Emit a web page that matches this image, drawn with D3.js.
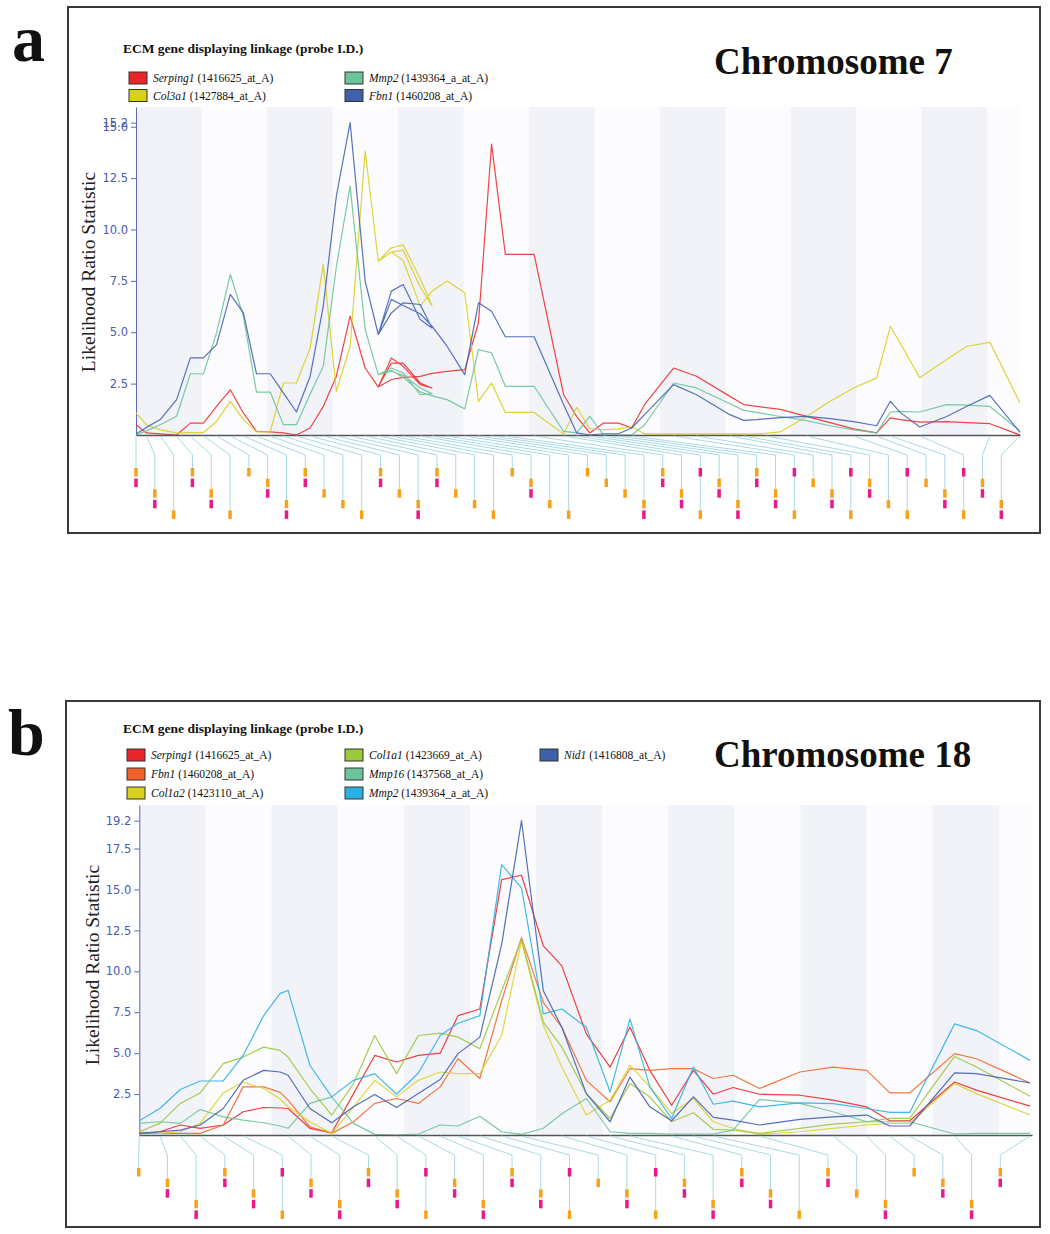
<!DOCTYPE html>
<html><head><meta charset="utf-8">
<script src="https://cdn.jsdelivr.net/npm/d3@7"></script>
<style>body{margin:0;background:#fff}</style>
</head><body>
<svg id="c" width="1050" height="1234"></svg>
<script>
// ================= DATA =================
// ---- Panel a : Chromosome 7 ----
const posA = [0,1.6,3.7,6.2,8.3,10.3,12.3,14.4,16.4,18.4,20.5,22.5,24.5,26.6,28.6,30.6,32.7,35.0,37.0,
  39.0,40.8,43.4,45.2, 43.4,40.8,39.0,37.0,
  39.0,40.8,43.4,45.2,47.5,50.2,52.3,54.3,56.4,60.8,65.3,67.3,69.3,71.4,73.7,75.7,77.7,82.1,85.6,90.7,92.8,94.8,98.4,102.4,106.0,109.6,113.1,115.2,116.7,119.7,123.8,126.9,130.4,135.0];
const serping1A = [0.5,0.1,0.05,0.0,0.58,0.58,1.39,2.2,1.07,0.18,0.15,0.1,0.0,0.34,1.39,2.86,5.78,3.26,2.34,
  3.75,3.34,2.45,2.29, 2.53,3.5,3.5,2.34,
  2.7,2.8,2.85,3.0,3.1,3.18,5.46,14.15,8.79,8.79,1.96,0.9,0.1,0.58,0.58,0.34,1.5,3.26,2.86,1.88,1.48,1.39,1.25,0.91,0.6,0.3,0.1,0.83,0.75,0.63,0.65,0.6,0.55,0.0];
const col3a1A = [1.07,0.5,0.25,0.1,0.12,0.12,0.66,1.64,0.75,0.15,0.15,2.53,2.53,4.24,8.3,2.12,4.32,13.82,8.46,
  9.11,9.25,7.6,6.3, 7.2,9.0,8.9,8.46,
  8.9,8.5,6.27,7.0,7.49,6.92,1.64,2.53,1.1,1.1,0.05,1.35,0.3,0.25,0.3,0.4,0.05,0.05,0.05,0.05,0.05,0.05,0.15,0.9,1.64,2.29,2.78,5.29,4.48,2.78,3.67,4.32,4.51,1.56];
const mmp2A = [0.0,0.2,0.5,0.91,2.98,2.98,4.97,7.81,5.78,2.09,2.09,0.5,0.5,2.0,3.34,8.2,12.11,5.13,2.94,
  3.26,3.02,1.96,2.0, 2.3,2.9,3.1,2.94,
  3.15,2.8,2.1,1.9,1.72,1.27,4.16,4.0,2.37,2.37,0.18,0.1,0.91,0.0,0.0,0.0,0.5,2.53,2.29,1.52,1.2,1.1,0.9,0.7,0.45,0.25,0.1,1.12,1.15,1.12,1.48,1.45,1.39,0.2];
const fbn1A = [0.05,0.37,0.75,1.72,3.75,3.75,4.4,6.84,5.94,2.98,2.98,2.05,1.12,2.86,6.27,11.63,15.2,7.49,4.89,
  7.0,7.32,5.62,5.21, 6.35,6.43,5.94,4.89,
  6.6,6.3,5.9,5.3,4.32,2.94,6.43,6.02,4.78,4.78,1.48,0.1,0.0,0.06,0.06,0.34,1.0,2.45,1.96,0.99,0.71,0.75,0.85,0.91,0.8,0.65,0.45,1.64,1.1,0.39,0.9,1.4,1.93,0.13];
const markersA = [0,1.6,3.7,6.2,8.3,10.3,12.3,14.4,16.4,18.4,20.5,22.5,24.5,26.6,28.6,30.6,32.7,35.0,37.0,
  39.0,40.8,43.4,45.2,47.5,50.2,52.3,54.3,56.4,60.8,65.3,67.3,69.3,71.4,73.7,75.7,82.1,85.6,90.7,92.8,
  96.3,102.4,109.6,113.1,115.2,119.7,130.4,135.0];
const glyphsA = ["OM","OM","O","OM","OM","O","O","OM","OM","OM","O","O","O","OM","O","OM","OM","O","O","O",
  "O","OM","O","O","O","O","O","OM","OM","OM","OM","OM","OM","OM","OM","OM","O","OM","OM","OM","O","OM","O",
  "OM","OM","OM","OM"];
const ticksA = [2.5,5.0,7.5,10.0,12.5,15.0];
const maxA = 15.2;

// ---- Panel b : Chromosome 18 ----
const posB = [0,3.1,6.2,9.2,12.7,15.7,18.8,21.3,22.5,25.8,29.1,32.4,35.6,38.9,42.2,45.5,48.2,51.5,54.8,57.8,
  61.1,63.9,67.6,71.2,74.2,77.2,80.5,83.8,86.8,89.8,93.8,99.9,104.9,110.0,113.5,116.5,123.3,126.6,134.7];
const serping1B = [0.1,0.2,0.61,0.41,0.61,1.42,1.68,1.65,1.62,0.41,0.14,2.53,4.86,4.46,4.86,5.0,7.29,7.7,15.6,15.87,
  11.55,10.33,6.18,4.15,6.58,3.95,1.82,3.95,2.49,2.9,2.49,2.43,2.13,1.72,0.87,0.87,3.24,2.74,1.76];
const fbn1B = [0.1,0.1,0.1,0.1,0.61,2.94,2.94,2.6,2.13,0.5,0.1,0.81,1.93,2.23,1.93,2.94,4.66,3.45,8.2,12.06,
  8.1,6.58,3.34,2.03,4.05,3.95,4.05,4.05,3.45,3.65,2.84,3.85,4.15,3.95,2.57,2.57,4.97,4.66,3.18];
const col1a2B = [0.2,0.1,0.2,0.71,2.57,3.24,2.84,2.2,1.72,0.81,0.1,1.72,3.34,2.33,3.34,3.85,3.75,3.75,6.08,11.85,
  6.69,4.15,1.22,2.13,4.26,2.94,1.32,2.23,0.81,0.41,0.04,0.2,0.41,0.61,0.71,0.71,3.14,2.53,1.22];
const col1a1B = [0.2,0.71,1.93,2.57,4.36,4.76,5.37,5.17,4.76,2.84,1.22,3.14,6.08,3.75,6.08,6.22,5.98,5.27,8.81,11.96,
  6.89,5.37,2.53,1.01,3.14,2.33,0.81,1.36,0.35,0.3,0.1,0.41,0.67,0.81,1.01,1.01,4.8,4.15,2.37];
const mmp16B = [0.71,0.81,0.71,1.56,1.11,0.91,0.75,0.55,0.41,1.93,2.33,0.71,0.04,0.0,0.06,0.61,0.55,1.15,0.2,0.04,
  0.41,1.3,2.23,0.2,0.1,0.1,0.06,0.06,0.06,0.3,2.17,1.93,1.42,0.81,0.81,0.81,0.06,0.1,0.1];
const mmp2B = [0.87,1.62,2.78,3.3,3.3,4.86,7.29,8.65,8.83,4.26,2.33,3.34,3.75,2.49,3.79,6.08,6.83,7.29,16.52,15.1,
  7.4,7.7,6.58,2.63,7.09,2.94,1.01,4.15,1.88,2.07,1.72,1.96,1.92,1.62,1.38,1.38,6.79,6.38,4.56];
const nid1B = [0.1,0.2,0.3,0.61,1.62,3.34,3.95,3.85,3.65,1.62,0.75,1.72,2.47,1.68,2.53,3.39,4.97,5.98,11.65,19.2,
  8.81,6.58,2.53,0.81,3.54,1.72,0.87,2.33,1.08,0.91,0.61,0.95,1.11,1.22,0.55,0.55,3.79,3.75,3.18];
const markersB = [0,3.1,6.2,9.2,12.7,15.7,22.5,25.8,29.1,35.6,38.9,42.2,45.5,48.2,51.5,54.8,57.8,63.9,67.6,71.2,
  74.2,80.5,83.8,86.8,93.8,104.9,110.0,113.5,116.5,123.3,134.7];
const glyphsB = ["O","OM","OM","OM","OM","OM","OM","OM","OM","OM","OM","OM","OM","OM","OM","OM","O","OM","OM","OM",
  "OM","OM","OM","O","OM","O","OM","O","OM","OM","OM"];
const ticksB = [2.5,5.0,7.5,10.0,12.5,15.0,17.5];
const maxB = 19.2;

// ================= DRAWING =================
const svg = d3.select("#c");
const SERIF = "'Liberation Serif','Times New Roman',Times,serif";
const SANS = "'DejaVu Sans',Verdana,sans-serif";

function drawPanel(p) {
  const g = svg.append("g");
  g.append("rect").attr("x", p.frame[0]).attr("y", p.frame[1]).attr("width", p.frame[2]).attr("height", p.frame[3])
    .attr("fill", "#fff").attr("stroke", "#3a3a3a").attr("stroke-width", 2);
  svg.append("text").attr("x", p.letterX).attr("y", p.letterY).text(p.letter)
    .attr("font-family", SERIF).attr("font-weight", "bold").attr("font-size", 66).attr("fill", "#111");

  const x = d3.scaleLinear().domain([0, 135]).range([p.left, p.right]);
  const y = d3.scaleLinear().domain([0, p.yMax * 1.05]).range([p.bottom, p.top]);

  // bands
  g.append("rect").attr("x", p.left).attr("y", p.top).attr("width", p.right - p.left).attr("height", p.bottom - p.top).attr("fill", "#fcfcfe");
  for (let b = 0; b * 10 < 135; b += 2) {
    g.append("rect").attr("x", x(b * 10)).attr("y", p.top)
      .attr("width", x(Math.min((b + 1) * 10, 135)) - x(b * 10)).attr("height", p.bottom - p.top).attr("fill", "#f2f3f9");
  }

  // title + legend
  g.append("text").attr("x", 123).attr("y", p.titleY).text("ECM gene displaying linkage (probe I.D.)")
    .attr("font-family", SERIF).attr("font-weight", "bold").attr("font-size", 13.5).attr("fill", "#111");
  p.series.forEach(s => {
    const sx = p.legCols[s.col], cy = p.legRows[s.row];
    g.append("rect").attr("x", sx).attr("y", cy - 6).attr("width", 18).attr("height", 12)
      .attr("fill", s.swatch).attr("stroke", "#333").attr("stroke-width", 1);
    const t = g.append("text").attr("x", sx + 24).attr("y", cy + 4).attr("font-family", SERIF).attr("font-size", 11.5).attr("fill", "#111");
    t.append("tspan").attr("font-style", "italic").text(s.gene);
    t.append("tspan").text(" (" + s.probe + ")");
  });
  g.append("text").attr("x", 714).attr("y", p.chromY).text(p.chrom)
    .attr("font-family", SERIF).attr("font-weight", "bold").attr("font-size", 37).attr("fill", "#111");

  // y label
  g.append("text").attr("transform", `translate(${p.ylabX},${p.ylabY}) rotate(-90)`).attr("text-anchor", "middle")
    .attr("dy", "0.35em").text("Likelihood Ratio Statistic")
    .attr("font-family", SERIF).attr("font-size", 19.5).attr("fill", "#222");

  // y axis
  const ya = g.append("g").attr("transform", `translate(${p.left},0)`)
    .call(d3.axisLeft(y).tickValues(p.ticks.concat([p.yMax])).tickFormat(d3.format(".1f")).tickSize(5).tickSizeOuter(0).tickPadding(3));
  ya.select(".domain").attr("stroke", "#5a6ab8");
  ya.selectAll(".tick line").attr("stroke", "#5a6ab8");
  ya.selectAll(".tick text").attr("fill", "#4a5bb0").attr("font-family", SANS).attr("font-size", 11.5);

  // series lines
  const line = d3.line().x(d => x(d[0])).y(d => y(d[1]));
  p.series.forEach(s => {
    g.append("path").datum(d3.zip(p.pos, s.values)).attr("d", line)
      .attr("fill", "none").attr("stroke", s.color).attr("stroke-width", 1.2).attr("stroke-linejoin", "round").attr("opacity", 0.9);
  });

  // x axis
  g.append("g").attr("transform", `translate(0,${p.bottom})`)
    .call(d3.axisBottom(x).tickValues([]).tickSizeOuter(0))
    .select(".domain").attr("stroke", "#555").attr("stroke-width", 1.5);

  // markers
  const n = p.markers.length;
  const step = (p.colRight - p.colLeft) / (n - 1);
  const slotH = 10.6;
  let k = 0;
  const gc = g.append("g");
  const gl = g.append("g");
  p.markers.forEach((m, i) => {
    const cx = p.colLeft + i * step;
    const first = k % 5;
    const gy = p.slot0 + first * slotH;
    gc.append("path")
      .attr("d", `M${x(m)},${p.bottom + 1}L${cx},${p.bendY}L${cx},${gy}`)
      .attr("fill", "none").attr("stroke", "#a9d9e6").attr("stroke-width", 1);
    for (const ch of p.glyphs[i]) {
      const s = k % 5;
      gl.append("rect").attr("x", cx - 1.75).attr("y", p.slot0 + s * slotH).attr("width", 3.5).attr("height", 8.5)
        .attr("fill", ch === "O" ? "#f7a21b" : "#e8198b");
      k++;
    }
  });
}

drawPanel({
  letter: "a", letterX: 12, letterY: 61,
  frame: [68, 7, 972, 526],
  left: 136, right: 1020, top: 107, bottom: 435,
  yMax: maxA, ticks: ticksA,
  titleY: 52.5, legCols: [129, 345], legRows: [78, 95.5],
  chrom: "Chromosome 7", chromY: 74,
  ylabX: 88, ylabY: 272,
  pos: posA,
  series: [
    {gene: "Serping1", probe: "1416625_at_A", values: serping1A, color: "#ee3030", swatch: "#e8262a", col: 0, row: 0},
    {gene: "Col3a1", probe: "1427884_at_A", values: col3a1A, color: "#d9cf22", swatch: "#d8d01c", col: 0, row: 1},
    {gene: "Mmp2", probe: "1439364_a_at_A", values: mmp2A, color: "#6cc498", swatch: "#6cc59a", col: 1, row: 0},
    {gene: "Fbn1", probe: "1460208_at_A", values: fbn1A, color: "#4563b0", swatch: "#3f61ac", col: 1, row: 1}
  ],
  markers: markersA, glyphs: glyphsA,
  colLeft: 136, colRight: 1001.3, bendY: 455, slot0: 468
});

drawPanel({
  letter: "b", letterX: 8, letterY: 755,
  frame: [66, 701, 974, 526],
  left: 139.3, right: 1032, top: 805, bottom: 1135,
  yMax: maxB, ticks: ticksB,
  titleY: 733, legCols: [127, 345, 540], legRows: [755, 774, 793],
  chrom: "Chromosome 18", chromY: 767,
  ylabX: 92, ylabY: 965,
  pos: posB,
  series: [
    {gene: "Serping1", probe: "1416625_at_A", values: serping1B, color: "#ec2a2c", swatch: "#e8262a", col: 0, row: 0},
    {gene: "Fbn1", probe: "1460208_at_A", values: fbn1B, color: "#f2682e", swatch: "#f0622a", col: 0, row: 1},
    {gene: "Col1a2", probe: "1423110_at_A", values: col1a2B, color: "#dcd42a", swatch: "#d8d01c", col: 0, row: 2},
    {gene: "Col1a1", probe: "1423669_at_A", values: col1a1B, color: "#9cc83c", swatch: "#9cc83c", col: 1, row: 0},
    {gene: "Mmp16", probe: "1437568_at_A", values: mmp16B, color: "#6cc498", swatch: "#6cc59a", col: 1, row: 1},
    {gene: "Mmp2", probe: "1439364_a_at_A", values: mmp2B, color: "#2db2e6", swatch: "#2cb0e4", col: 1, row: 2},
    {gene: "Nid1", probe: "1416808_at_A", values: nid1B, color: "#4060b0", swatch: "#3f61ac", col: 2, row: 0}
  ],
  markers: markersB, glyphs: glyphsB,
  colLeft: 138.7, colRight: 1000.3, bendY: 1155, slot0: 1168
});
</script>
</body></html>
